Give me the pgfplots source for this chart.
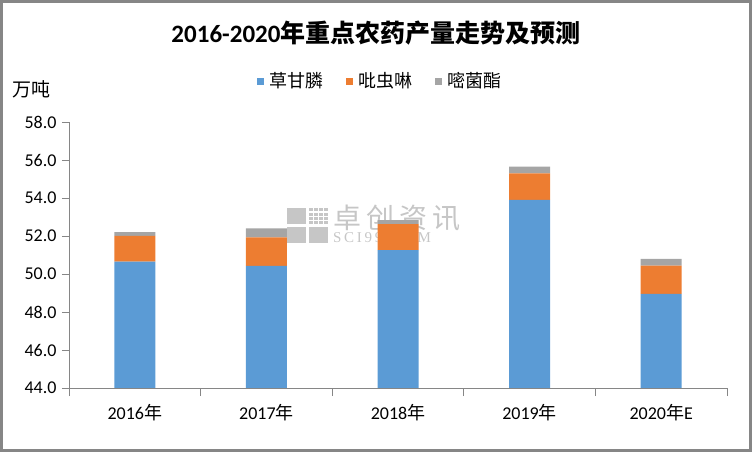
\documentclass[border=0pt]{standalone}
\usepackage{fontspec}
\usepackage{pgfplots}
\pgfplotsset{compat=1.18}
\setmainfont{Carlito}
\newfontfamily\cjk{Noto Sans CJK SC}
\newfontfamily\wmcjk{Noto Sans CJK SC}[LetterSpace=18]
\newfontfamily\wmserif{Liberation Serif}[LetterSpace=18]
\definecolor{cblue}{HTML}{5B9BD5}
\definecolor{corange}{HTML}{ED7D31}
\definecolor{cgray}{HTML}{A5A5A5}
\definecolor{axgray}{HTML}{868686}
\definecolor{wm}{HTML}{C6C6C6}
\begin{document}
\begin{tikzpicture}[x=1pt,y=1pt]
% frame
\draw[line width=2.6pt, color=axgray] (1.3,1.3) rectangle (750.7,450.7);
% title
\node at (376,419) {\fontsize{25}{30}\selectfont\bfseries 2016-2020{\cjk\bfseries 年重点农药产量走势及预测}};
% unit
\node[anchor=west, inner sep=0pt] at (12,363) {\fontsize{19}{22}\selectfont\cjk 万吨};
% watermark
\fill[wm] (287,228) rectangle (306,244);
\fill[wm] (287,209) rectangle (306,225);
\fill[wm] (309,209) rectangle (328,225);
\foreach \i in {0,1,2,3}{\foreach \j in {0,1,2,3}{\fill[wm] (309+\i*5,228+\j*4.2) rectangle (312.5+\i*5,231+\j*4.2);}}
\node[anchor=west, inner sep=0pt] at (333,234) {\fontsize{28}{30}\selectfont\wmcjk\color{wm} 卓创资讯};
\node[anchor=west, inner sep=0pt] at (333,214) {\fontsize{15}{16}\selectfont\wmserif\color{wm} SCI99.COM};
\begin{axis}[
  at={(69pt,64pt)}, anchor=south west,
  scale only axis, width=658pt, height=266pt,
  ybar stacked, bar width=41pt,
  xmin=-0.5, xmax=4.5, ymin=44, ymax=58,
  axis lines*=left,
  axis line style={axgray, line width=0.8pt},
  xtick={0,1,2,3,4},
  xticklabels={{2016{\cjk 年}},{2017{\cjk 年}},{2018{\cjk 年}},{2019{\cjk 年}},{2020{\cjk 年}E}},
  minor xtick={-0.5,0.5,1.5,2.5,3.5,4.5},
  major x tick style={draw=none},
  minor x tick style={axgray, line width=0.8pt},
  minor tick length=8pt,
  ytick={44,46,...,58},
  y tick style={axgray, line width=0.8pt},
  major tick length=7pt,
  tick align=outside,
  yticklabel style={/pgf/number format/.cd, fixed, fixed zerofill, precision=1, /tikz/.cd, font=\fontsize{18}{20}\selectfont, xshift=-2pt},
  xticklabel style={font=\fontsize{18}{20}\selectfont, yshift=-6pt},
  /pgf/number format/assume math mode=true,
  legend style={at={(0.473,1.154)}, anchor=center, draw=none, fill=none, font=\fontsize{18}{20}\selectfont\cjk,
    legend columns=3, /tikz/every odd column/.append style={column sep=4pt},
    /tikz/every even column/.append style={column sep=20pt}},
  legend image code/.code={\fill[#1] (0pt,-3.5pt) rectangle (7pt,3.5pt);},
  clip=true,
]
\addplot[fill=cblue, draw=none] coordinates {(0,50.65) (1,50.43) (2,51.26) (3,53.90) (4,48.95)};
\addplot[fill=corange, draw=none] coordinates {(0,1.35) (1,1.50) (2,1.37) (3,1.40) (4,1.49)};
\addplot[fill=cgray, draw=none] coordinates {(0,0.20) (1,0.47) (2,0.21) (3,0.35) (4,0.35)};
\legend{草甘膦,吡虫啉,嘧菌酯}
\end{axis}
\end{tikzpicture}
\end{document}
